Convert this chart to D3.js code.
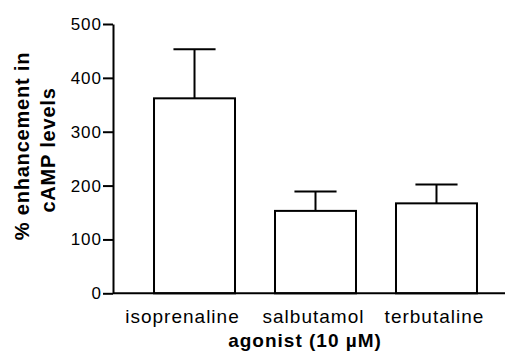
<!DOCTYPE html>
<html>
<head>
<meta charset="utf-8">
<script src="https://cdn.jsdelivr.net/npm/d3@7"></script>
<style>
  html, body { margin: 0; padding: 0; background: #fff; }
  svg { display: block; }
  text { font-family: "Liberation Sans", Arial, Helvetica, sans-serif; fill: #000; }
</style>
</head>
<body>
<svg id="chart" width="505" height="363"></svg>
<script>
const categories = ["isoprenaline", "salbutamol", "terbutaline"];
const means = [362, 153, 167];
const errors = [91, 36, 35];
const yTicks = [0, 100, 200, 300, 400, 500];
const xTitle = "agonist (10 µM)";
const yTitleLines = ["% enhancement in", "cAMP levels"];

const svg = d3.select("#chart");
const x0 = 113, xEnd = 505;

const y = d3.scaleLinear().domain([0, 500]).range([293.3, 24]);
const x = d3.scaleBand().domain(categories).range([113, 518])
  .paddingInner(0.3306).paddingOuter(0.339);

// bars
const data = categories.map((c, i) => ({ c, m: means[i], e: errors[i] }));

const g = svg.append("g");

g.selectAll("rect.bar").data(data).enter().append("rect")
  .attr("class", "bar")
  .attr("x", d => x(d.c))
  .attr("y", d => y(d.m))
  .attr("width", x.bandwidth())
  .attr("height", d => y(0) - y(d.m))
  .attr("fill", "#fff")
  .attr("stroke", "#000")
  .attr("stroke-width", 2);

// error bars (upper only)
const capW = x.bandwidth() * 0.52;
g.selectAll("line.err").data(data).enter().append("line")
  .attr("x1", d => x(d.c) + x.bandwidth() / 2)
  .attr("x2", d => x(d.c) + x.bandwidth() / 2)
  .attr("y1", d => y(d.m))
  .attr("y2", d => y(d.m + d.e))
  .attr("stroke", "#000").attr("stroke-width", 2);
g.selectAll("line.cap").data(data).enter().append("line")
  .attr("x1", d => x(d.c) + x.bandwidth() / 2 - capW / 2)
  .attr("x2", d => x(d.c) + x.bandwidth() / 2 + capW / 2)
  .attr("y1", d => y(d.m + d.e))
  .attr("y2", d => y(d.m + d.e))
  .attr("stroke", "#000").attr("stroke-width", 2);

// y axis
const yAxis = d3.axisLeft(y).tickValues(yTicks).tickSize(10).tickSizeOuter(0).tickPadding(1);
const ya = svg.append("g").attr("transform", `translate(${x0},0)`).call(yAxis);
ya.select(".domain").attr("stroke", "#000").attr("stroke-width", 2);
ya.selectAll(".tick line").attr("stroke", "#000").attr("stroke-width", 2);
ya.selectAll(".tick text")
  .attr("font-size", 17)
  .style("letter-spacing", "1px")
  .attr("font-family", "Liberation Sans, Arial, sans-serif");

// x baseline
svg.append("line")
  .attr("x1", x0).attr("x2", xEnd)
  .attr("y1", y(0)).attr("y2", y(0))
  .attr("stroke", "#000").attr("stroke-width", 2);

// category labels
svg.selectAll("text.cat").data(categories).enter().append("text")
  .attr("class", "cat")
  .attr("x", d => x(d) + x.bandwidth() / 2)
  .attr("dx", (d, i) => i === 0 ? -12 : -2)
  .attr("y", y(0) + 30)
  .attr("text-anchor", "middle")
  .attr("font-size", 19)
  .style("letter-spacing", "1px")
  .text(d => d);

// x title
svg.append("text")
  .attr("x", 305).attr("y", 347)
  .attr("text-anchor", "middle")
  .attr("font-size", 19).attr("font-weight", "bold")
  .style("letter-spacing", "1px")
  .text(xTitle);

// y title (two lines)
const yTitleX = [29, 55];
const yTitleC = [146, 150];
yTitleLines.forEach((t, i) => {
  svg.append("text")
    .attr("transform", `translate(${yTitleX[i]},${yTitleC[i]}) rotate(-90)`)
    .attr("text-anchor", "middle")
    .attr("font-size", 20).attr("font-weight", "bold")
    .style("letter-spacing", "0.8px")
    .text(t);
});
</script>
</body>
</html>
